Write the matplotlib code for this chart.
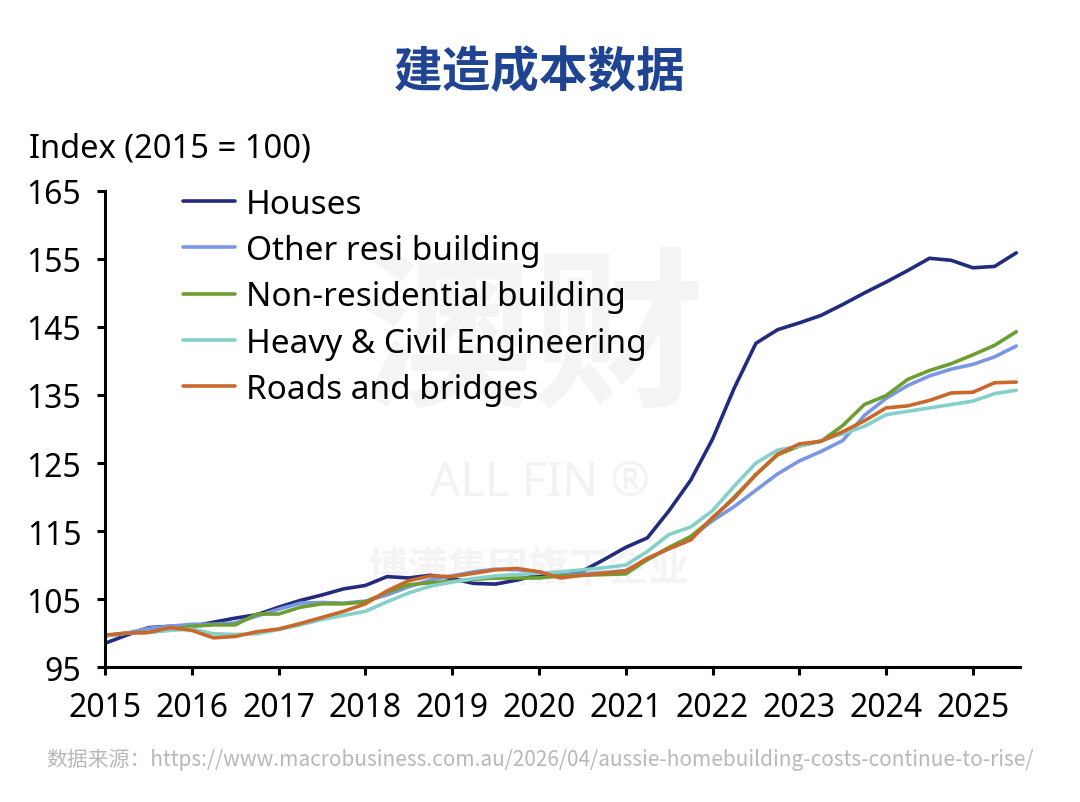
import numpy as np
import matplotlib
matplotlib.use("Agg")
import matplotlib.pyplot as plt

plt.rcParams['font.family'] = ['Noto Sans', 'Noto Sans CJK SC', 'DejaVu Sans']

# datos trimestrales 2015 Q1 .. 2025 Q3
anios = np.arange(43) * 0.25 + 2015

houses = [98.5, 99.7, 100.8, 101.0, 101.0, 101.6, 102.2, 102.7, 103.8, 104.8,
          105.6, 106.5, 107.0, 108.3, 108.1, 108.5, 108.0, 107.3, 107.2, 107.8,
          108.6, 108.7, 109.1, 110.8, 112.6, 114.0, 118.0, 122.5, 128.5, 136.0,
          142.6, 144.6, 145.6, 146.7, 148.3, 150.0, 151.6, 153.3, 155.1, 154.8,
          153.7, 153.9, 155.9]
other_resi = [99.6, 100.0, 100.7, 101.0, 101.3, 101.3, 101.5, 102.5, 103.5, 104.4,
              104.5, 104.4, 104.7, 105.6, 106.8, 107.8, 108.4, 109.0, 109.4, 109.3,
              109.0, 108.5, 108.7, 108.9, 109.2, 110.8, 112.5, 114.1, 116.5, 118.6,
              121.0, 123.4, 125.3, 126.7, 128.3, 132.0, 134.5, 136.4, 137.8, 138.8,
              139.5, 140.6, 142.2]
non_resi = [99.6, 100.0, 100.1, 100.5, 101.0, 101.2, 101.2, 102.8, 102.8, 103.8,
            104.3, 104.3, 104.6, 106.0, 107.1, 107.4, 107.6, 107.9, 108.1, 108.1,
            108.1, 108.4, 108.5, 108.6, 108.7, 110.8, 112.6, 114.2, 116.8, 120.0,
            123.3, 126.2, 127.5, 128.2, 130.5, 133.6, 134.9, 137.3, 138.6, 139.6,
            140.9, 142.3, 144.3]
heavy_civil = [99.6, 100.0, 100.1, 100.4, 100.6, 99.9, 99.8, 99.9, 100.5, 101.2,
               102.0, 102.6, 103.2, 104.6, 105.9, 106.9, 107.5, 108.0, 108.4, 108.6,
               108.8, 109.0, 109.3, 109.6, 110.0, 112.0, 114.5, 115.6, 118.0, 121.6,
               125.0, 126.9, 127.5, 128.3, 129.3, 130.4, 132.1, 132.6, 133.1, 133.6,
               134.1, 135.2, 135.7]
roads = [99.7, 100.0, 100.1, 100.8, 100.4, 99.3, 99.5, 100.2, 100.6, 101.4,
         102.3, 103.2, 104.3, 106.2, 107.7, 108.4, 108.3, 108.8, 109.3, 109.5,
         109.0, 108.1, 108.5, 108.8, 109.1, 111.0, 112.4, 113.7, 117.0, 119.8,
         123.3, 126.3, 127.8, 128.2, 129.6, 131.2, 133.1, 133.4, 134.2, 135.3,
         135.4, 136.8, 136.9]

series = [
    ("Houses", houses, "#232c7c"),
    ("Other resi building", other_resi, "#7b97e3"),
    ("Non-residential building", non_resi, "#6c9e32"),
    ("Heavy & Civil Engineering", heavy_civil, "#86d0ca"),
    ("Roads and bridges", roads, "#c8692b"),
]

x_ticks = list(range(2015, 2026))
y_ticks = list(range(95, 166, 10))

fig = plt.figure(figsize=(10.8, 8.03), dpi=100)
ax = fig.add_axes([0.0972, 0.168, 0.847, 0.593])

# marca de agua (debajo de las lineas)
cjk = ['Noto Sans CJK SC']
ax.text(0.493, 0.573, "澳财", fontsize=124, fontweight="bold", color="#f4f4f4",
        ha="center", va="center", family=cjk, transform=fig.transFigure, zorder=0.5)
ax.text(0.50, 0.398, "ALL FIN ®", fontsize=34, fontweight="bold", color="#f2f2f2",
        ha="center", va="center", transform=fig.transFigure, zorder=0.5)
ax.text(0.49, 0.29, "博满集团旗下企业", fontsize=29, fontweight="bold", color="#f4f4f4",
        ha="center", va="center", family=cjk, transform=fig.transFigure, zorder=0.5)

for nombre, vals, color in series:
    ax.plot(anios, vals, color=color, lw=2.6, label=nombre, solid_capstyle="round", zorder=2)

ax.set_xlim(2015, 2025.54)
ax.set_ylim(95, 165)
ax.set_xticks(x_ticks)
ax.set_yticks(y_ticks)
ax.tick_params(axis="both", labelsize=23, width=2.2, length=6, direction="out")
ax.tick_params(axis="x", pad=11)
ax.tick_params(axis="y", pad=11)
for s in ["top", "right"]:
    ax.spines[s].set_visible(False)
for s in ["left", "bottom"]:
    ax.spines[s].set_linewidth(2.2)

leg = ax.legend(loc="upper left", bbox_to_anchor=(0.053, 1.07), frameon=False,
                fontsize=24, handlelength=1.55, handletextpad=0.33, labelspacing=0.40)

fig.text(0.5, 0.910, "建造成本数据", fontsize=35, fontweight="bold", color="#1f4592",
         ha="center", va="center", family=cjk)
fig.text(0.027, 0.815, "Index (2015 = 100)", fontsize=23.5, ha="left", va="center")
fig.text(0.5, 0.054,
         "数据来源：https://www.macrobusiness.com.au/2026/04/aussie-homebuilding-costs-continue-to-rise/",
         fontsize=15, color="#b8b8b8", ha="center", va="center",
         family=['Noto Sans CJK SC', 'DejaVu Sans'])

fig.savefig("out.png", dpi=100)
